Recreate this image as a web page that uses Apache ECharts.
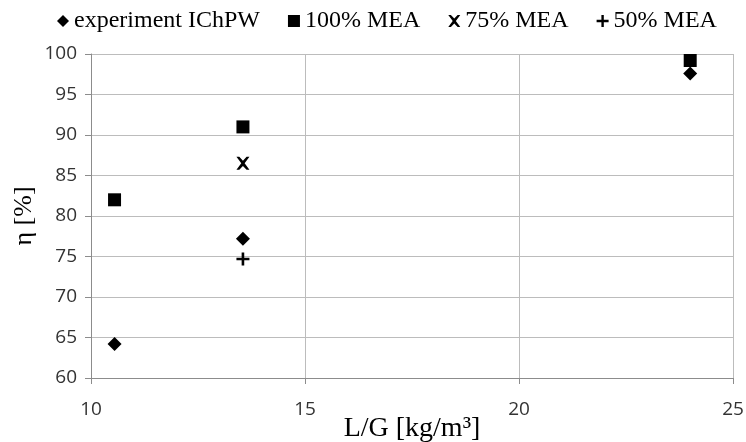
<!DOCTYPE html>
<html>
<head>
    <meta charset='utf-8'>
    <script src="https://cdn.jsdelivr.net/npm/echarts@6/dist/echarts.min.js"></script>
</head>
<body>
<style>
    html, body, #main {
        width: 746px;
        height: 442px;
        margin: 0;
        padding: 0;
        background: #fff;
    }
</style>
<div id="main"></div>
<script>
    var seriesNames = ['experiment IChPW', '100% MEA', '75% MEA', '50% MEA'];
    var experiment = [[10.55, 64.2], [13.55, 77.2], [24.0, 97.6]];
    var mea100 = [[10.55, 82.0], [13.55, 91.0], [24.0, 99.2]];
    var mea75 = [[13.55, 86.5]];
    var mea50 = [[13.55, 74.7]];

    var crossPath = 'path://M0,0 L2.2,0 L5,3 L7.8,0 L10,0 L6.3,5 L10,10 L7.8,10 L5,7 L2.2,10 L0,10 L3.7,5 Z';
    var plusPath = 'path://M4,0 L6,0 L6,4 L10,4 L10,6 L6,6 L6,10 L4,10 L4,6 L0,6 L0,4 L4,4 Z';

    var chart = echarts.init(document.getElementById('main'));

    var axisLabel = {color: '#333', fontSize: 19, fontFamily: 'Open Sans'};
    var gridLine = {show: true, lineStyle: {color: '#bcbcbc', width: 1}};
    var black = {color: '#000', opacity: 1};

    chart.setOption({
        animation: false,
        legend: {
            top: 4,
            left: 52,
            itemGap: 28,
            itemWidth: 12,
            itemHeight: 12,
            textStyle: {fontFamily: 'Liberation Serif', fontSize: 24, color: '#000'},
            data: seriesNames
        },
        grid: {left: 91, right: 13, top: 54, bottom: 64, outerBoundsMode: 'none'},
        xAxis: {
            type: 'value',
            min: 10,
            max: 25,
            interval: 5,
            name: 'L/G [kg/m³]',
            nameLocation: 'middle',
            nameGap: 37,
            nameMoveOverlap: false,
            nameTextStyle: {fontFamily: 'Liberation Serif', fontSize: 28, color: '#000'},
            axisLine: {lineStyle: {color: '#8c8c8c'}},
            axisTick: {show: true, length: 6, lineStyle: {color: '#8c8c8c'}},
            axisLabel: Object.assign({margin: 22}, axisLabel),
            splitLine: gridLine
        },
        yAxis: {
            type: 'value',
            min: 60,
            max: 100,
            interval: 5,
            name: 'η [%]',
            nameLocation: 'middle',
            nameGap: 54,
            nameMoveOverlap: false,
            nameTextStyle: {fontFamily: 'Liberation Serif', fontSize: 26, color: '#000'},
            axisLine: {show: true, lineStyle: {color: '#8c8c8c'}},
            axisTick: {show: true, length: 6, lineStyle: {color: '#8c8c8c'}},
            axisLabel: Object.assign({margin: 14}, axisLabel),
            splitLine: gridLine
        },
        series: [{
            name: seriesNames[0],
            type: 'scatter',
            symbol: 'diamond',
            symbolSize: 14,
            itemStyle: black,
            data: experiment
        }, {
            name: seriesNames[1],
            type: 'scatter',
            symbol: 'rect',
            symbolSize: 13,
            itemStyle: black,
            data: mea100
        }, {
            name: seriesNames[2],
            type: 'scatter',
            symbol: crossPath,
            symbolSize: 13,
            itemStyle: black,
            data: mea75
        }, {
            name: seriesNames[3],
            type: 'scatter',
            symbol: plusPath,
            symbolSize: 13,
            itemStyle: black,
            data: mea50
        }]
    });
</script>
</body>
</html>
